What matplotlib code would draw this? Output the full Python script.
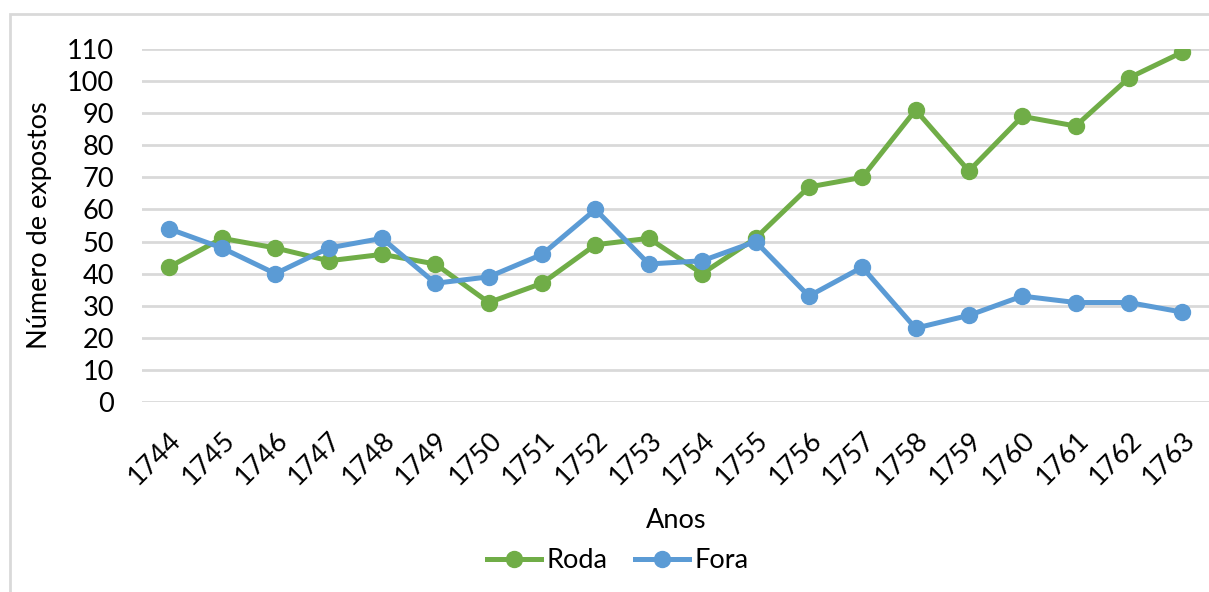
import numpy as np
import matplotlib
matplotlib.use('Agg')
import matplotlib.pyplot as plt
from matplotlib.patches import Rectangle

# data
anos = [1744, 1745, 1746, 1747, 1748, 1749, 1750, 1751, 1752, 1753,
        1754, 1755, 1756, 1757, 1758, 1759, 1760, 1761, 1762, 1763]
roda = [42, 51, 48, 44, 46, 43, 31, 37, 49, 51,
        40, 51, 67, 70, 91, 72, 89, 86, 101, 109]
fora = [54, 48, 40, 48, 51, 37, 39, 46, 60, 43,
        44, 50, 33, 42, 23, 27, 33, 31, 31, 28]
yticks = list(range(0, 111, 10))

plt.rcParams['font.family'] = ['Lato', 'DejaVu Sans']

fig = plt.figure(figsize=(12.09, 5.92), dpi=100)
ax = fig.add_axes([142/1209, 1-402/592, 1-142/1209, (402-49)/592])

# light grey chart border (left and top visible)
fig.patches.append(Rectangle((10/1209, -0.1), 1.2, 1-14/592+0.1,
                             transform=fig.transFigure, fill=False,
                             edgecolor='#d9d9d9', linewidth=2))

xx = np.arange(len(anos))
ax.plot(xx, roda, '-o', color='#70AD47', lw=3.6, ms=11.5, label='Roda', zorder=3)
ax.plot(xx, fora, '-o', color='#5B9BD5', lw=3.6, ms=11.5, label='Fora', zorder=3)

ax.set_xlim(-0.5, len(anos) - 0.5)
ax.set_ylim(0, 110)
ax.set_yticks(yticks)
ax.set_yticklabels([str(v) for v in yticks], fontsize=19.5)
ax.set_xticks(xx)
ax.set_xticklabels([str(a) for a in anos], fontsize=19.5, rotation=45,
                   ha='right', va='top', rotation_mode='anchor')
ax.tick_params(axis='both', length=0)
ax.tick_params(axis='y', pad=20)
ax.tick_params(axis='x', pad=18)

ax.grid(axis='y', color='#d9d9d9', lw=2)
ax.set_axisbelow(True)
for s in ax.spines.values():
    s.set_visible(False)

ax.set_ylabel('Número de expostos', fontsize=19.5, labelpad=11)
fig.text(676/1209, 1-520/592, 'Anos', fontsize=19.5, ha='center', va='center')

fig.legend(loc='center', bbox_to_anchor=(618/1209, 1-561/592), ncol=2,
           frameon=False, fontsize=19.5, handlelength=2.0, handletextpad=0.2,
           columnspacing=1.0)

fig.savefig('out.png', dpi=100)
